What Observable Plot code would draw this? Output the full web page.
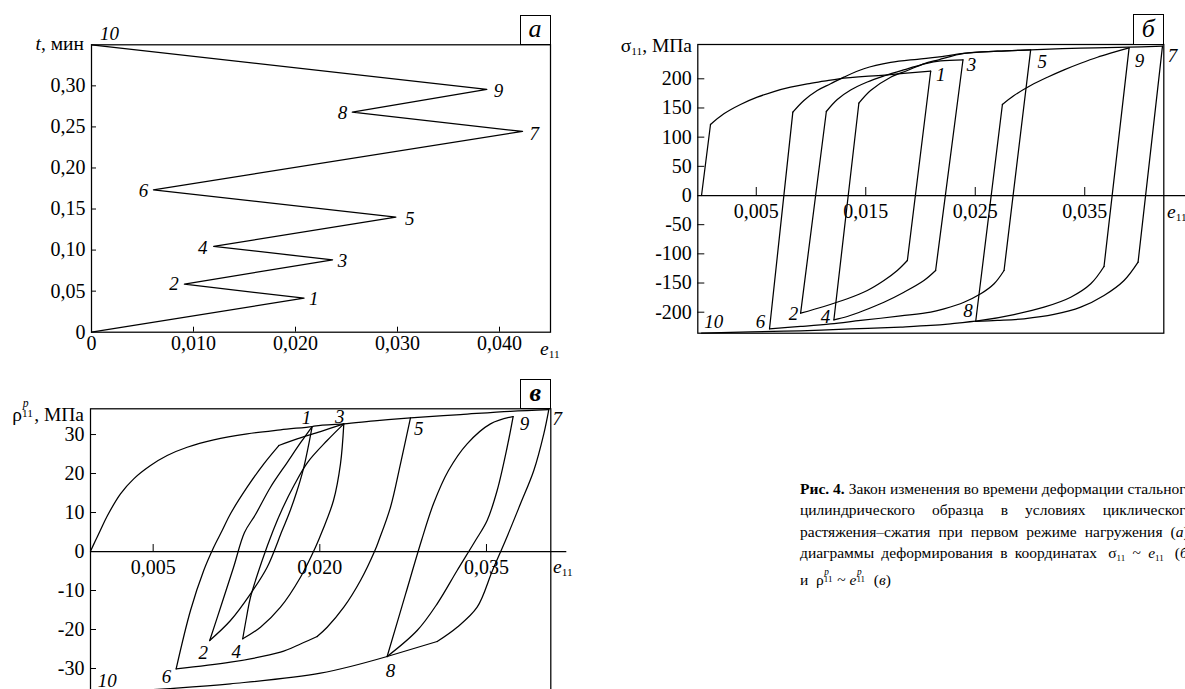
<!DOCTYPE html>
<html><head><meta charset="utf-8">
<script src="https://cdn.jsdelivr.net/npm/d3@7"></script>
<script src="https://cdn.jsdelivr.net/npm/@observablehq/plot@0.6"></script>
<style>
body{margin:0;background:#fff;}
#root{position:relative;width:1185px;height:689px;overflow:hidden;font-family:"Liberation Serif",Tinos,"Times New Roman",Times,"DejaVu Serif",serif;color:#000;background:#fff;}
.abs{position:absolute;white-space:nowrap;line-height:20px;}
.box{position:absolute;box-sizing:border-box;border:1.3px solid #000;font-style:italic;text-align:center;background:#fff;}
.sub{font-size:0.58em;vertical-align:-0.3em;line-height:0;}
.ss{display:inline-block;position:relative;width:0.62em;height:1em;}
.ss .sp{position:absolute;left:0.05em;top:-0.22em;font-size:0.6em;line-height:1;font-style:italic;}
.ss .sb{position:absolute;left:0;top:0.62em;font-size:0.58em;line-height:1;}
.cap{position:absolute;font-size:15.5px;}
.cl{display:flex;justify-content:space-between;white-space:nowrap;height:21.3px;line-height:21.3px;gap:3px;}
.cl.last{justify-content:flex-start;gap:0;}
</style></head><body><div id="root"></div>
<script>
const SERIF = '"Liberation Serif",Tinos,"Times New Roman",Times,"DejaVu Serif",serif';

// ---------- Panel а: loading program e11(t) ----------
const progStrain = [0, 0.02084, 0.00911, 0.02364, 0.01198, 0.02984, 0.00607, 0.04226, 0.02557, 0.03876, 0];
const progTime   = [0, 0.0414, 0.0585, 0.0882, 0.1044, 0.1401, 0.1734, 0.2445, 0.2680, 0.2956, 0.35];
const aTicksX = [0, 0.01, 0.02, 0.03, 0.04];
const aTicksY = [0, 0.05, 0.10, 0.15, 0.20, 0.25, 0.30];
const aLabels = ["10", "9", "8", "7", "6", "5", "4", "3", "2", "1"];
const aLabelE = [0.00176, 0.0399, 0.0246, 0.0434, 0.0051, 0.0312, 0.0109, 0.0246, 0.0081, 0.0218];
const aLabelT = [0.3635, 0.2944, 0.2667, 0.2417, 0.1717, 0.1381, 0.1028, 0.0865, 0.0590, 0.0407];

// ---------- Panel б: sigma11 ~ e11 (first two points of each path = elastic part) ----------
const sig01 = [[0,0],[0.00082,121.7],[0.00204,140.0],[0.00356,156.0],[0.00509,168.5],[0.00661,178.2],[0.00813,185.6],[0.00966,191.4],[0.01118,195.9],[0.01255,200.0],[0.01672,206.5],[0.02093,213.0]];
const sig12 = [[0.02093,213.0],[0.01880,-111.4],[0.01788,-128.5],[0.01666,-145.7],[0.01514,-162.8],[0.01332,-177.0],[0.01118,-190.2],[0.00905,-201.7]];
const sig23 = [[0.00905,-201.7],[0.01140,144.0],[0.01240,164.5],[0.01362,180.8],[0.01514,194.5],[0.01666,204.8],[0.01880,217.1],[0.02047,226.2],[0.02184,230.8],[0.02388,232.6]];
const sig34 = [[0.02388,232.6],[0.02138,-128.5],[0.02031,-145.7],[0.01849,-165.7],[0.01666,-182.9],[0.01483,-197.1],[0.01331,-207.4],[0.01209,-213.0]];
const sig45 = [[0.01209,-213.0],[0.01437,158.2],[0.01544,179.9],[0.01727,202.7],[0.01880,214.2],[0.02029,225.7],[0.02166,232.6],[0.02397,243.4],[0.02702,247.3],[0.03006,249.7]];
const sig56 = [[0.03006,249.7],[0.02763,-128.5],[0.02672,-151.3],[0.02550,-168.5],[0.02397,-182.9],[0.02215,-194.2],[0.02093,-200.0],[0.01818,-206.5],[0.01453,-214.2],[0.01179,-220.2],[0.00905,-224.5],[0.00621,-228.4]];
const sig67 = [[0.00621,-228.4],[0.00834,142.8],[0.00935,162.9],[0.01057,180.0],[0.01179,191.5],[0.01300,202.8],[0.01483,217.2],[0.01727,228.0],[0.01971,233.5],[0.02153,237.0],[0.02397,243.4],[0.02702,247.3],[0.03006,249.7],[0.03463,252.5],[0.03905,254.2],[0.04210,255.9]];
const sig78 = [[0.04210,255.9],[0.03987,-114.3],[0.03859,-145.7],[0.03676,-171.4],[0.03463,-191.4],[0.03219,-203.9],[0.02945,-211.3],[0.02702,-214.2],[0.02504,-215.9]];
const sig89 = [[0.02504,-215.9],[0.02748,156.0],[0.02854,171.4],[0.03006,188.5],[0.03159,202.7],[0.03311,215.4],[0.03463,226.7],[0.03616,237.0],[0.03768,245.6],[0.03905,253.1]];
const sig910 = [[0.03905,253.1],[0.03676,-121.7],[0.03555,-151.3],[0.03372,-174.3],[0.03128,-191.4],[0.02854,-204.0],[0.02550,-214.2],[0.02275,-219.9],[0.02093,-222.8],[0.01818,-225.4],[0.01362,-228.8],[0.00905,-231.9],[0.00448,-233.9],[0,-236.0]];
const bTicksX = [0.005, 0.015, 0.025, 0.035];
const bTicksY = [-200, -150, -100, -50, 0, 50, 100, 150, 200];
const bLabels = ["1", "3", "5", "9", "7", "10", "6", "2", "4", "8"];
const bLabelE = [0.02184, 0.02465, 0.03113, 0.04001, 0.04301, 0.00112, 0.00539, 0.00840, 0.01133, 0.02433];
const bLabelS = [206.9, 223.9, 228.4, 231.4, 240.0, -217.1, -217.1, -202.8, -207.4, -198.3];

// ---------- Panel в: rho11^p ~ e11^p ----------
const rhoSkeleton = [[-0.00064,0.08],[-0.00019,2.82],[0.00026,5.51],[0.00089,9.23],[0.00206,14.79],[0.00325,18.64],[0.00476,22.05],[0.00626,24.62],[0.00806,26.74],[0.01045,28.64],[0.01346,30.18],[0.01646,31.21],[0.01931,32.05],[0.02006,32.38],[0.02216,32.74],[0.02516,33.59],[0.02816,34.28],[0.03266,35.13],[0.03716,35.97],[0.04061,36.41]];
const rho12 = [[0.01931,32.05],[0.01898,27.18],[0.01853,21.28],[0.01790,15.13],[0.01727,10.00],[0.01661,5.38],[0.01526,-4.03],[0.01376,-10.85],[0.01196,-17.69],[0.01009,-22.82]];
const rho23 = [[0.01009,-22.82],[0.01115,-13.59],[0.01223,-4.10],[0.01322,4.87],[0.01421,9.49],[0.01556,16.49],[0.01706,22.82],[0.01830,28.03],[0.01931,32.05]];
const rho34 = [[0.02216,32.74],[0.02186,22.49],[0.02123,13.08],[0.02024,5.38],[0.01961,1.10],[0.01826,-6.59],[0.01646,-14.28],[0.01466,-19.41],[0.01306,-22.38]];
const rho45 = [[0.01306,-22.38],[0.01340,-16.92],[0.01376,-11.72],[0.01481,-2.31],[0.01580,5.38],[0.01664,11.03],[0.01772,17.18],[0.01889,22.82],[0.02066,28.46],[0.02216,32.74]];
const rho56 = [[0.02816,34.28],[0.02726,22.49],[0.02636,11.36],[0.02531,2.82],[0.02496,0.26],[0.02366,-7.44],[0.02216,-14.28],[0.02066,-19.41],[0.01976,-21.79]];
const rho56b = [[0.01976,-21.79],[0.01826,-23.72],[0.01646,-25.82],[0.01196,-28.38],[0.00707,-30.08]];
const rho67 = [[0.00707,-30.08],[0.00836,-15.13],[0.00955,-4.87],[0.01045,1.10],[0.01121,5.38],[0.01196,9.67],[0.01346,16.49],[0.01496,22.49],[0.01631,27.18]];
const rho67b = [[0.01631,27.18],[0.01796,28.90],[0.02006,30.77],[0.02216,32.74]];
const rho78 = [[0.04061,36.41],[0.04016,30.18],[0.03926,20.77],[0.03806,12.23],[0.03671,2.82],[0.03554,-4.87],[0.03416,-14.28],[0.03236,-19.41],[0.03056,-23.08]];
const rho78b = [[0.03056,-23.08],[0.02606,-26.92]];
const rho89 = [[0.02606,-26.92],[0.02771,-11.0],[0.02915,2.82],[0.03023,12.23],[0.03158,20.77],[0.03326,27.62],[0.03536,32.74],[0.03740,34.62]];
const rho910 = [[0.03740,34.62],[0.03686,26.74],[0.03596,15.64],[0.03506,7.95],[0.03401,2.82],[0.03236,-4.87],[0.03056,-13.41],[0.02876,-20.26],[0.02606,-26.92]];
const rho910b = [[0.02606,-26.92],[0.02006,-31.21],[0.01196,-33.92],[0.00611,-35.21],[-0.00064,-36.41]];
const cTicksX = [0.005, 0.020, 0.035];
const cTicksY = [-30, -20, -10, 0, 10, 20, 30];
const cLabels = ["1", "3", "5", "9", "7", "2", "4", "6", "8", "10"];
const cLabelE = [0.01880, 0.02180, 0.02891, 0.03842, 0.04136, 0.00950, 0.01247, 0.00620, 0.02636, 0.00086];
const cLabelR = [34.28, 34.62, 31.46, 32.74, 34.03, -26.08, -25.82, -32.23, -30.69, -33.2];

// ---------- caption ----------
const SS = (sp, sb) => `<span class="ss"><span class="sp">${sp}</span><span class="sb">${sb}</span></span>`;
const captionLines = [
  ["<b>Рис.</b>", "<b>4.</b>", "Закон", "изменения", "во", "времени", "деформации", "стального"],
  ["цилиндрического", "образца", "в", "условиях", "циклического"],
  ["растяжения–сжатия", "при", "первом", "режиме", "нагружения", "(<i>а</i>);"],
  ["диаграммы", "деформирования", "в", "координатах", "&nbsp;σ<span class=\"sub\">11</span>", "~", "<i>e</i><span class=\"sub\">11</span>", "&nbsp;(<i>б</i>)"],
  ["и&nbsp;&nbsp;ρ" + SS("p", "11") + "&nbsp;~&nbsp;<i>e</i>" + SS("p", "11") + "&nbsp;&nbsp;(<i>в</i>)"]
];

// ---------- helpers ----------
const comma = (d, n) => d === 0 ? "0" : d.toFixed(n).replace(".", ",");
const toRows = (paths) => paths.flatMap((p, k) => p.map(([e, v]) => ({k, e, v})));
const baseStyle = {fontFamily: SERIF, fontSize: "20px", background: "transparent", overflow: "visible", color: "#000"};
const LW = 1.25;
const root = document.getElementById("root");
function place(node, left, top) {
  node.style.position = "absolute"; node.style.left = left + "px"; node.style.top = top + "px";
  root.appendChild(node);
}
function html(str, left, top, extra) {
  const d = document.createElement("div");
  d.className = "abs"; d.innerHTML = str;
  if (extra) Object.assign(d.style, extra);
  place(d, left, top);
  return d;
}

// ---------- Panel а ----------
const aRows = progStrain.map((e, i) => ({e, t: progTime[i]}));
const aLab = aLabels.map((s, i) => ({s, e: aLabelE[i], t: aLabelT[i]}));
const plotA = Plot.plot({
  width: 590, height: 360, marginLeft: 91, marginRight: 40, marginTop: 44.3, marginBottom: 28.3,
  x: {domain: [0, 0.045], axis: null}, y: {domain: [0, 0.35], axis: null},
  style: baseStyle,
  marks: [
    Plot.frame({stroke: "#000", strokeWidth: LW}),
    Plot.ruleY(aTicksY.filter(d => d > 0), {y: d => d, x1: 0, x2: 0, insetLeft: 5, stroke: "#000", strokeWidth: 1}),
    Plot.ruleX(aTicksX.filter(d => d > 0), {x: d => d, y1: 0, y2: 0, insetBottom: 5, stroke: "#000", strokeWidth: 1}),
    Plot.text(aTicksY, {y: d => d, frameAnchor: "left", dx: -6, textAnchor: "end", text: d => comma(d, 2), fill: "#000"}),
    Plot.text(aTicksX, {x: d => d, frameAnchor: "bottom", dy: 18, text: d => comma(d, 3), fill: "#000"}),
    Plot.line(aRows, {x: "e", y: "t", stroke: "#000", strokeWidth: LW}),
    Plot.text(aLab, {x: "e", y: "t", text: "s", fontStyle: "italic", fontSize: 19, fill: "#000"})
  ]
});
place(plotA, 0, 0);

// ---------- Panel б ----------
const bPaths = [sig01, sig12, sig23, sig34, sig45, sig56, sig67, sig78, sig89, sig910];
const bElastic = toRows(bPaths.map(p => p.slice(0, 2)));
const bPlastic = toRows(bPaths.map(p => p.slice(1)));
const bLab = bLabels.map((s, i) => ({s, e: bLabelE[i], v: bLabelS[i]}));
const plotB = Plot.plot({
  width: 595, height: 345, marginLeft: 107.3, marginRight: 21.7, marginTop: 44, marginBottom: 12.3,
  x: {domain: [-0.00034, 0.04222], axis: null}, y: {domain: [-236, 258.8], axis: null},
  style: baseStyle,
  marks: [
    Plot.frame({stroke: "#000", strokeWidth: LW}),
    Plot.ruleY([0], {insetRight: -22, stroke: "#000", strokeWidth: LW}),
    Plot.ruleY(bTicksY.filter(d => d !== 0), {y: d => d, x1: -0.00034, x2: -0.00034, insetLeft: 7, stroke: "#000", strokeWidth: 1}),
    Plot.ruleX(bTicksX, {x: d => d, y1: 0, y2: 0, insetBottom: 8, stroke: "#000", strokeWidth: 1}),
    Plot.text(bTicksY, {y: d => d, frameAnchor: "left", dx: -6, textAnchor: "end", text: d => String(d), fill: "#000"}),
    Plot.text(bTicksX, {x: d => d, y: 0, dy: 16, text: d => comma(d, 3), fill: "#000"}),
    Plot.line(bElastic, {x: "e", y: "v", z: "k", stroke: "#000", strokeWidth: LW}),
    Plot.line(bPlastic, {x: "e", y: "v", z: "k", curve: "catmull-rom", stroke: "#000", strokeWidth: LW}),
    Plot.text(bLab, {x: "e", y: "v", text: "s", fontStyle: "italic", fontSize: 19, fill: "#000"})
  ]
});
place(plotB, 590, 0);

// ---------- Panel в ----------
const cPaths = [rhoSkeleton, rho12, rho23, rho34, rho45, rho56, rho56b, rho67, rho67b, rho78, rho78b, rho89, rho910, rho910b];
const cRows = toRows(cPaths);
const cLab = cLabels.map((s, i) => ({s, e: cLabelE[i], v: cLabelR[i]}));
const plotC = Plot.plot({
  width: 590, height: 340, marginLeft: 90, marginRight: 39.7, marginTop: 43.3, marginBottom: 9.7,
  x: {domain: [-0.00064, 0.04079], axis: null}, y: {domain: [-37, 36.6], axis: null},
  style: baseStyle,
  marks: [
    Plot.frame({stroke: "#000", strokeWidth: LW}),
    Plot.ruleY([0], {insetRight: -16, stroke: "#000", strokeWidth: LW}),
    Plot.ruleY(cTicksY.filter(d => d !== 0), {y: d => d, x1: -0.00064, x2: -0.00064, insetLeft: 6, stroke: "#000", strokeWidth: 1}),
    Plot.ruleX(cTicksX, {x: d => d, y1: 0, y2: 0, insetBottom: 7, stroke: "#000", strokeWidth: 1}),
    Plot.text(cTicksY, {y: d => d, frameAnchor: "left", dx: -6, textAnchor: "end", text: d => String(d), fill: "#000"}),
    Plot.text(cTicksX, {x: d => d, y: 0, dy: 16, text: d => comma(d, 3), fill: "#000"}),
    Plot.line(cRows, {x: "e", y: "v", z: "k", curve: "catmull-rom", stroke: "#000", strokeWidth: LW}),
    Plot.text(cLab, {x: "e", y: "v", text: "s", fontStyle: "italic", fontSize: 19, fill: "#000"})
  ]
});
place(plotC, 0, 365);

// ---------- axis titles, panel tags ----------
const E11 = '<i>e</i><span class="sub">11</span>';
html('<i>t</i>, мин', 0, 34, {width: "84px", textAlign: "right", fontSize: "19.5px"});
html(E11, 540, 339, {fontSize: "19.5px"});
html('σ<span class="sub">11</span>, МПа', 560, 36, {width: "132px", textAlign: "right", fontSize: "19.5px"});
html(E11, 1167, 202, {fontSize: "19.5px"});
html('ρ' + SS("p", "11") + ', МПа', 0, 401, {width: "84px", textAlign: "right", fontSize: "19.5px"});
html(E11, 553, 557, {fontSize: "19.5px"});

function tag(letter, left, top, w, h, bold) {
  const d = document.createElement("div");
  d.className = "box";
  Object.assign(d.style, {left: left + "px", top: top + "px", width: w + "px", height: h + "px",
    fontSize: "26px", lineHeight: (h - 4) + "px", fontWeight: bold ? "bold" : "normal"});
  d.textContent = letter;
  root.appendChild(d);
}
tag("а", 519.5, 15, 31, 30, false);
tag("б", 1133, 13.5, 30.8, 31, false);
tag("в", 520, 379, 30.8, 30, true);

const cap = document.createElement("div");
cap.className = "cap";
Object.assign(cap.style, {left: "800px", top: "478px", width: "393px"});
captionLines.forEach((words, i) => {
  const line = document.createElement("div");
  line.className = "cl" + (i === captionLines.length - 1 ? " last" : "");
  if (i === captionLines.length - 1) line.style.marginTop = "6px";
  words.forEach(w => { const s = document.createElement("span"); s.innerHTML = w; line.appendChild(s); });
  cap.appendChild(line);
});
root.appendChild(cap);
</script></body></html>
